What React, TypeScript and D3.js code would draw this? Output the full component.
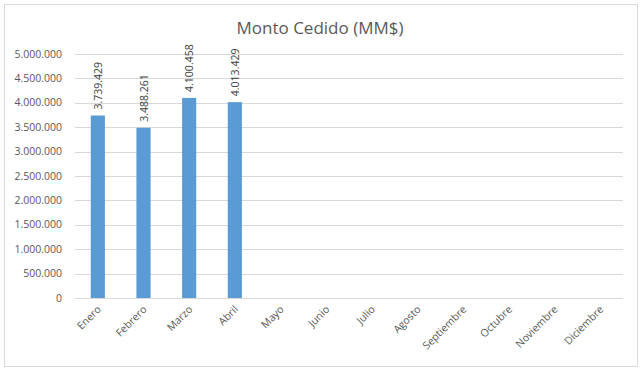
import React from "react";
import * as d3 from "d3";

const months = ["Enero","Febrero","Marzo","Abril","Mayo","Junio","Julio","Agosto","Septiembre","Octubre","Noviembre","Diciembre"];
const values: (number | null)[] = [3739429, 3488261, 4100458, 4013429, null, null, null, null, null, null, null, null];
const yTicks = [0, 500000, 1000000, 1500000, 2000000, 2500000, 3000000, 3500000, 4000000, 4500000, 5000000];
const title = "Monto Cedido (MM$)";

const fmt = (v: number) => d3.format(",")(v).replace(/,/g, ".");

export default function App() {
  const W = 644, H = 371;
  const left = 75, right = 623, top = 54, bottom = 298;
  const x = d3.scaleBand<string>().domain(months).range([left, right]).paddingInner(0.69).paddingOuter(0.345);
  const y = d3.scaleLinear().domain([0, 5000000]).range([bottom, top]);
  const font = "'Open Sans', 'Liberation Sans', sans-serif";
  const grey = "#595959";
  return (
    <svg width={W} height={H} style={{ position: "absolute", left: 0, top: 0 }} fontFamily={font}>
      <rect x={0} y={0} width={W} height={H} fill="#fff" />
      <rect x={4.5} y={4.5} width={633} height={362} fill="#fff" stroke="#d9d9d9" />
      <text x={320} y={34} textAnchor="middle" fontSize={17} fill={grey}>{title}</text>
      {yTicks.map(t => (
        <g key={t}>
          <line x1={left} x2={right} y1={Math.round(y(t)) + 0.5} y2={Math.round(y(t)) + 0.5} stroke="#d9d9d9" />
          <text x={62} y={y(t)} dy="0.35em" textAnchor="end" fontSize={10.5} fill={grey}>{fmt(t)}</text>
        </g>
      ))}
      {months.map((m, i) => {
        const v = values[i];
        const cx = x(m)! + x.bandwidth() / 2;
        return (
          <g key={m}>
            {v != null && (
              <>
                <rect x={x(m)} y={y(v)} width={x.bandwidth()} height={bottom - y(v)} fill="#5b9bd5" />
                <text transform={`translate(${cx + 4},${y(v) - 6}) rotate(-90)`} fontSize={10.5} fill="#404040">{fmt(v)}</text>
              </>
            )}
            <text transform={`translate(${cx + 4},${bottom + 12}) rotate(-45)`} textAnchor="end" fontSize={10.5} fill={grey}>{m}</text>
          </g>
        );
      })}
    </svg>
  );
}
